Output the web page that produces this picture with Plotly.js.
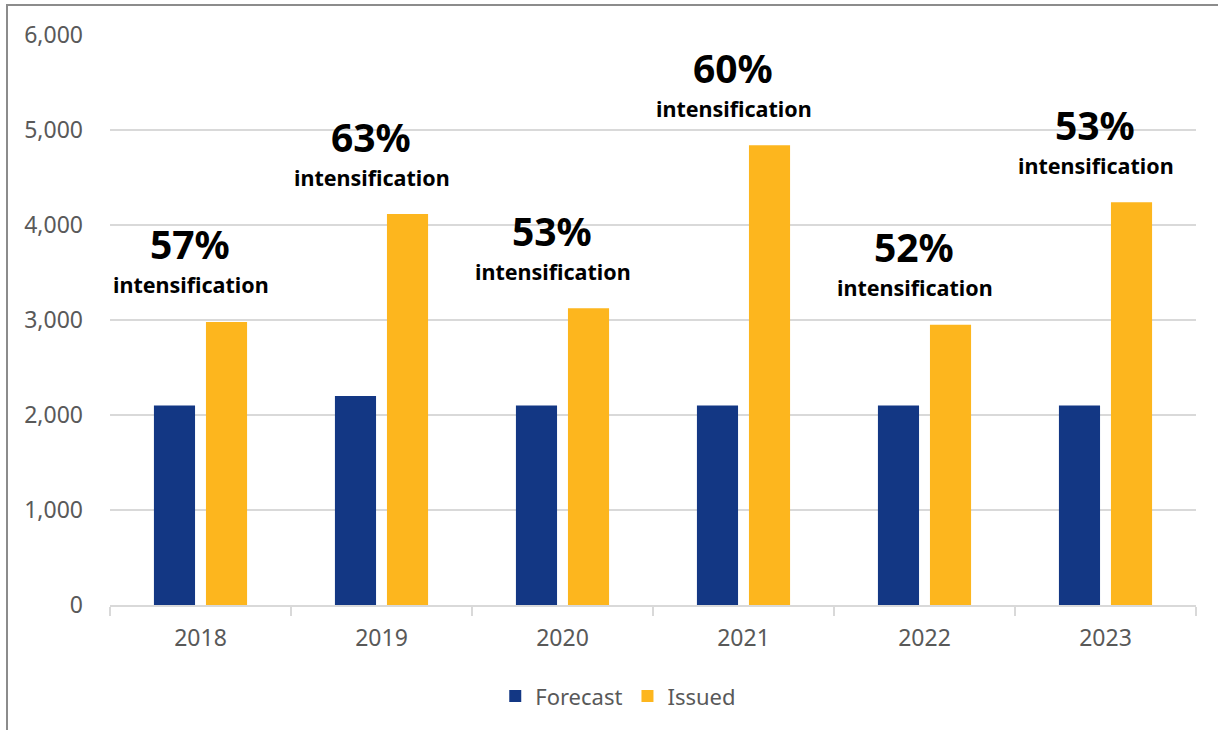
<!DOCTYPE html>
<html><head><meta charset="utf-8">
<script src="https://cdn.plot.ly/plotly-3.0.1.min.js"></script>
<style>
html,body{margin:0;padding:0;background:#fff;}
#wrap{position:relative;width:1218px;height:730px;}
#chart{position:absolute;left:0;top:0;width:1218px;height:730px;}
#frame{position:absolute;left:6px;top:4px;right:0;bottom:0;border-left:2px solid #8c8c8c;border-top:2px solid #8c8c8c;pointer-events:none;}
</style></head>
<body><div id="wrap"><div id="chart"></div><div id="frame"></div></div>
<script>
const years = ['2018','2019','2020','2021','2022','2023'];
const forecast = [2100, 2200, 2100, 2100, 2100, 2100];
const issued = [2980, 4115, 3125, 4840, 2950, 4240];
const intensification = ['57%','63%','53%','60%','52%','53%'];
const labelWord = 'intensification';

const FONT = 'Noto Sans, Open Sans, sans-serif';
const traces = [
  {type:'bar', name:'Forecast', x:years, y:forecast, marker:{color:'#133784'}, hoverinfo:'skip'},
  {type:'bar', name:'Issued', x:years, y:issued, marker:{color:'#FDB61E'}, hoverinfo:'skip'}
];
const annotations = [];
years.forEach((yr,i)=>{
  annotations.push({x:i, y:issued[i], xref:'x', yref:'y', text:'<b>'+intensification[i]+'</b>', showarrow:false,
    font:{family:FONT, size:39, color:'#000'}, yanchor:'middle', xanchor:'center', yshift:78, xshift:-11});
  annotations.push({x:i, y:issued[i], xref:'x', yref:'y', text:'<b>'+labelWord+'</b>', showarrow:false,
    font:{family:FONT, size:21.5, color:'#000'}, yanchor:'middle', xanchor:'center', yshift:37, xshift:-10});
});
const layout = {
  width:1218, height:730,
  margin:{l:110, r:22, t:35, b:125, autoexpand:false},
  paper_bgcolor:'rgba(0,0,0,0)', plot_bgcolor:'#fff',
  barmode:'group', bargap:0.425, bargroupgap:0.21,
  font:{family:FONT, color:'#595959', size:22},
  xaxis:{type:'category', range:[-0.5, years.length-0.5], autorange:false, showgrid:false, showline:true, linecolor:'#d9d9d9', linewidth:2,
    ticks:'outside', tickson:'boundaries', ticklen:9, tickcolor:'#d9d9d9', tickwidth:2,
    tickfont:{family:FONT, size:23, color:'#595959'}, ticklabelstandoff:11, fixedrange:true, automargin:false},
  yaxis:{range:[0,6000], autorange:false, tickvals:[0,1000,2000,3000,4000,5000,6000], tickformat:',d',
    showgrid:true, gridcolor:'#d9d9d9', gridwidth:2, zeroline:false, showline:false,
    tickfont:{family:FONT, size:23, color:'#595959'}, ticklabelstandoff:26, fixedrange:true, automargin:false},
  legend:{orientation:'h', x:0.468, xanchor:'center', y:-0.16, yanchor:'middle',
    font:{family:FONT, size:22, color:'#595959'}, itemwidth:30, traceorder:'normal'},
  annotations:annotations,
  showlegend:true
};
Plotly.newPlot('chart', traces, layout, {displayModeBar:false, staticPlot:true});
</script></body></html>
